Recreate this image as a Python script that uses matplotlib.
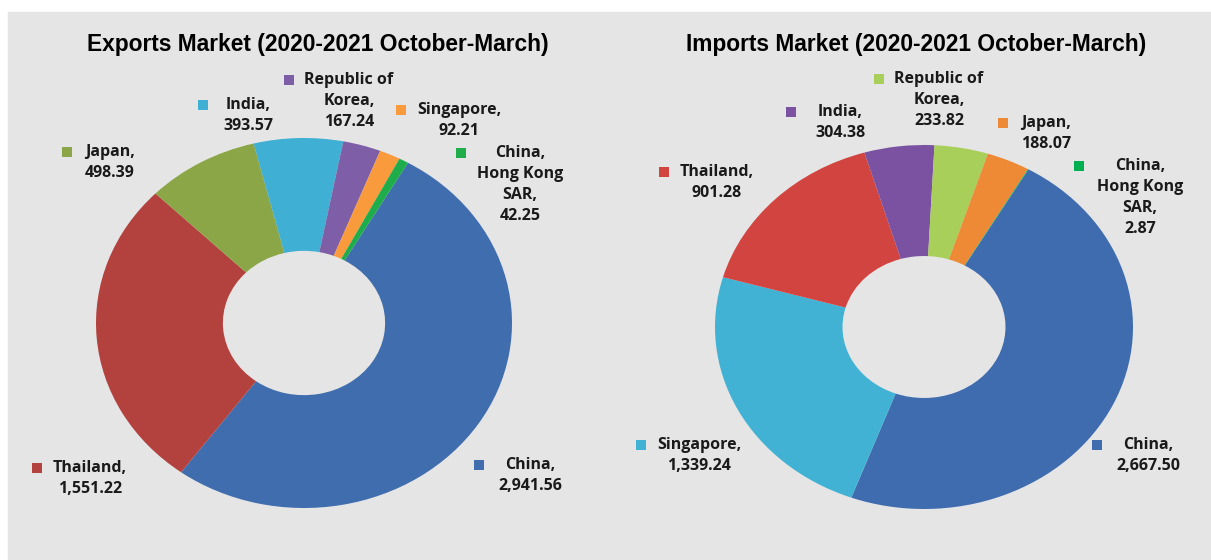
import matplotlib
matplotlib.use("Agg")
import matplotlib.pyplot as plt
from matplotlib.patches import Rectangle

# data
exp_names = ["China", "Thailand", "Japan", "India", "Republic of\nKorea",
             "Singapore", "China,\nHong Kong\nSAR"]
exp_values = [2941.56, 1551.22, 498.39, 393.57, 167.24, 92.21, 42.25]
exp_colors = ["#3f6dae", "#b3423f", "#8ba647", "#3fafd3", "#7e5fa7", "#f99b3c", "#1fad4c"]

imp_names = ["China", "Singapore", "Thailand", "India", "Republic of\nKorea",
             "Japan", "China,\nHong Kong\nSAR"]
imp_values = [2667.50, 1339.24, 901.28, 304.38, 233.82, 188.07, 2.87]
imp_colors = ["#3e6caf", "#41b2d3", "#d2443f", "#7a52a1", "#a7cf5a", "#ee8a36", "#00b050"]

# label layout in pixels: (text centre x, first line y, key x)
exp_lab = [(530, 465, 479), (90, 468, 37), (110, 152, 67), (248, 105, 203),
           (349, 80, 289), (459, 110, 401), (520, 153, 461)]
imp_lab = [(1148, 445, 1097), (699, 445, 641), (717, 172, 664), (840, 112, 791),
           (939, 79, 879), (1046, 123, 1003), (1140, 166, 1079)]

W, H = 1211, 560
fig = plt.figure(figsize=(W / 100, H / 100), dpi=100)
fig.patch.set_facecolor("white")
fig.add_artist(Rectangle((8 / W, 0), 1, (H - 12) / H, transform=fig.transFigure,
                         color="#e5e5e5", zorder=-1))


def donut(cx, cy, rx, ry, values, colors, hole):
    p = 1.3
    ax = fig.add_axes([(cx - p * rx) / W, (H - cy - p * ry) / H, 2 * p * rx / W, 2 * p * ry / H])
    ax.pie(values, colors=colors, startangle=60, counterclock=False,
           wedgeprops=dict(width=1 - hole, linewidth=0))
    ax.set_aspect("auto")
    ax.set_xlim(-p, p)
    ax.set_ylim(-p, p)
    ax.axis("off")
    return ax


donut(304, 323, 208, 185, exp_values, exp_colors, 0.39)
donut(924, 327, 209, 182, imp_values, imp_colors, 0.39)

ov = fig.add_axes([0, 0, 1, 1])
ov.set_xlim(0, W)
ov.set_ylim(H, 0)
ov.axis("off")

ov.text(318, 45, "Exports Market (2020-2021 October-March)", ha="center", va="center",
        fontsize=16.4, fontweight="bold", family="Liberation Sans")
ov.text(916, 45, "Imports Market (2020-2021 October-March)", ha="center", va="center",
        fontsize=16.4, fontweight="bold", family="Liberation Sans")


def labels(names, values, colors, lay):
    for n, v, c, (tx, ty, kx) in zip(names, values, colors, lay):
        lines = (n + ",").split("\n") + [f"{v:,.2f}"]
        for i, s in enumerate(lines):
            ov.text(tx, ty + i * 21, s, ha="center", va="center", fontsize=11.5,
                    fontweight="bold", family="Open Sans", color="#1a1a1a")
        ov.plot(kx, ty, marker="s", ms=6.5, color=c, mew=0)


labels(exp_names, exp_values, exp_colors, exp_lab)
labels(imp_names, imp_values, imp_colors, imp_lab)

fig.savefig("out.png", dpi=100)
